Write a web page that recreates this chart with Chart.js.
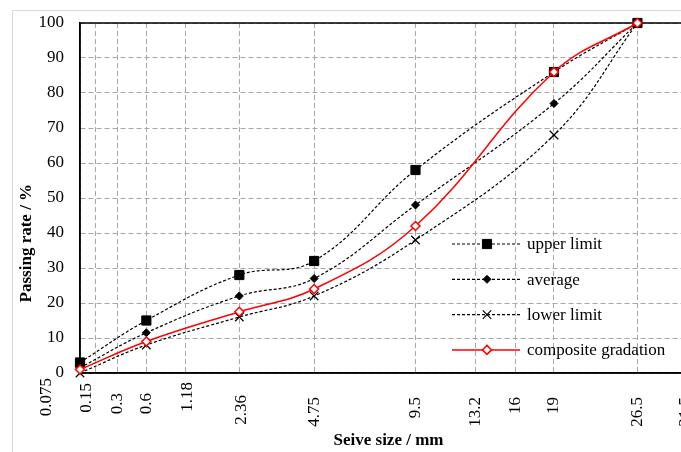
<!DOCTYPE html>
<html>
<head>
<meta charset="utf-8">
<script src="https://cdn.jsdelivr.net/npm/chart.js@4.4.1/dist/chart.umd.min.js"></script>
<style>
  html, body { margin: 0; padding: 0; background: #fff; overflow: hidden; width: 681px; height: 452px; }
  #frame { position: absolute; left: 12px; top: 10px; width: 760px; height: 520px; border: 1px solid #d9d9d9; box-sizing: border-box; }
  #c { position: absolute; left: 0; top: 0; }
</style>
</head>
<body>
<div id="frame"></div>
<canvas id="c" width="720" height="470"></canvas>
<script>
// Sieve sizes shown on the horizontal axis (mm) and their labels
const sieveSizes = [0.075, 0.15, 0.3, 0.6, 1.18, 2.36, 4.75, 9.5, 13.2, 16, 19, 26.5, 31.5];
const sieveLabels = ['0.075', '0.15', '0.3', '0.6', '1.18', '2.36', '4.75', '9.5', '13.2', '16', '19', '26.5', '31.5'];

// Sieves at which passing rates were measured (mm)
const dataSizes = [0.075, 0.6, 2.36, 4.75, 9.5, 19, 26.5];

// Passing rate (%) for each series
const upperLimit = [3, 15, 28, 32, 58, 86, 100];
const averageRate = [1.5, 11.5, 22, 27, 48, 77, 100];
const lowerLimit = [0, 8, 16, 22, 38, 68, 100];
const compositeGradation = [1, 9, 17.5, 24, 42, 86, 100];

// Series names
const seriesNames = ['upper limit', 'average', 'lower limit', 'composite gradation'];

// Gradation charts use a 0.45 power scale for sieve size
const pw = d => Math.pow(d, 0.45);
const toPoints = vals => dataSizes.map((d, i) => ({ x: pw(d), y: vals[i] }));

const FONT = 'Liberation Serif, "Times New Roman", serif';

function drawMarker(ctx, style, r, x, y, fill, stroke, lw) {
  ctx.save();
  ctx.fillStyle = fill; ctx.strokeStyle = stroke; ctx.lineWidth = lw; ctx.setLineDash([]);
  ctx.beginPath();
  if (style === 'rect') {
    const s = Math.SQRT1_2 * r;
    ctx.rect(x - s, y - s, 2 * s, 2 * s);
    ctx.fill(); ctx.stroke();
  } else if (style === 'rectRot') {
    ctx.moveTo(x, y - r); ctx.lineTo(x + r, y); ctx.lineTo(x, y + r); ctx.lineTo(x - r, y); ctx.closePath();
    ctx.fill(); ctx.stroke();
  } else if (style === 'crossRot') {
    const s = Math.SQRT1_2 * r;
    ctx.moveTo(x - s, y - s); ctx.lineTo(x + s, y + s);
    ctx.moveTo(x - s, y + s); ctx.lineTo(x + s, y - s);
    ctx.stroke();
  }
  ctx.restore();
}

// Black box around the plot area
const plotBox = {
  id: 'plotBox',
  beforeDatasetsDraw(chart) {
    const { ctx, chartArea: a } = chart;
    ctx.save();
    ctx.strokeStyle = '#000'; ctx.lineWidth = 1.5; ctx.setLineDash([]);
    ctx.strokeRect(a.left, a.top, a.right - a.left, a.bottom - a.top);
    ctx.restore();
  }
};

// Rotated sieve-size labels; the two smallest sizes are eased apart so they don't collide
const labelShiftX = [-33, -9, 0, 0, 2, 2, 0, 0, 0, 0, 0, 0, 0];
const labelShiftY = [-19, -14, -4, -4, -15, -2, 0, 0, 0, 0, 0, 0, 0];
const sieveTickLabels = {
  id: 'sieveTickLabels',
  afterDraw(chart) {
    const { ctx, chartArea: a } = chart;
    const xs = chart.scales.x;
    ctx.save();
    ctx.fillStyle = '#000'; ctx.font = '17px ' + FONT;
    ctx.textAlign = 'right'; ctx.textBaseline = 'middle';
    sieveSizes.forEach((d, i) => {
      ctx.save();
      ctx.translate(xs.getPixelForValue(pw(d)) + labelShiftX[i], a.bottom + 24 + labelShiftY[i]);
      ctx.rotate(-Math.PI / 2);
      ctx.fillText(sieveLabels[i], 0, 0);
      ctx.restore();
    });
    ctx.restore();
  }
};

// Legend inside the lower right of the plot, plus axis titles
const annotations = {
  id: 'annotations',
  afterDraw(chart) {
    const { ctx, chartArea: a } = chart;
    const x0 = a.right - 234, y0 = a.bottom - 129, gap = 35.3;
    chart.data.datasets.forEach((ds, i) => {
      const y = y0 + i * gap;
      ctx.save();
      ctx.strokeStyle = ds.borderColor; ctx.lineWidth = ds.borderWidth;
      ctx.setLineDash(ds.borderDash || []);
      ctx.beginPath(); ctx.moveTo(x0, y); ctx.lineTo(x0 + 68, y); ctx.stroke();
      ctx.restore();
      drawMarker(ctx, ds.pointStyle, ds.pointRadius, x0 + 35, y, ds.pointBackgroundColor, ds.pointBorderColor, ds.pointBorderWidth);
      ctx.save();
      ctx.fillStyle = '#000'; ctx.font = '17px ' + FONT;
      ctx.textAlign = 'left'; ctx.textBaseline = 'middle';
      ctx.fillText(ds.label, x0 + 75, y + 1);
      ctx.restore();
    });

    ctx.save();
    ctx.fillStyle = '#000'; ctx.font = 'bold 17px ' + FONT;
    ctx.textAlign = 'center'; ctx.textBaseline = 'middle';
    ctx.fillText('Seive size / mm', (a.left + a.right) / 2 + 5.5, a.bottom + 68);
    ctx.translate(a.left - 53, a.top + 0.629 * (a.bottom - a.top));
    ctx.rotate(-Math.PI / 2);
    ctx.fillText('Passing rate / %', 0, 0);
    ctx.restore();
  }
};

const dashed = [3, 2];
new Chart(document.getElementById('c'), {
  type: 'line',
  data: {
    datasets: [
      { label: seriesNames[0], data: toPoints(upperLimit), borderColor: '#000', borderWidth: 1.2, borderDash: dashed,
        pointStyle: 'rect', pointRadius: 6.5, pointBackgroundColor: '#000', pointBorderColor: '#000', pointBorderWidth: 1, order: 1 },
      { label: seriesNames[1], data: toPoints(averageRate), borderColor: '#000', borderWidth: 1.2, borderDash: dashed,
        pointStyle: 'rectRot', pointRadius: 4, pointBackgroundColor: '#000', pointBorderColor: '#000', pointBorderWidth: 1, order: 1 },
      { label: seriesNames[2], data: toPoints(lowerLimit), borderColor: '#000', borderWidth: 1.2, borderDash: dashed,
        pointStyle: 'crossRot', pointRadius: 6, pointBackgroundColor: '#000', pointBorderColor: '#000', pointBorderWidth: 1.2, order: 1 },
      { label: seriesNames[3], data: toPoints(compositeGradation), borderColor: '#ff0000', borderWidth: 1.5,
        pointStyle: 'rectRot', pointRadius: 4.5, pointBackgroundColor: '#fff', pointBorderColor: '#ff0000', pointBorderWidth: 1.5, order: 0 }
    ].map(ds => Object.assign(ds, { fill: false, tension: 0.4, clip: false, pointHoverRadius: ds.pointRadius }))
  },
  options: {
    responsive: false,
    animation: false,
    events: [],
    layout: { padding: { left: 0, top: 23, right: 34, bottom: 0 } },
    plugins: { legend: { display: false }, tooltip: { enabled: false } },
    scales: {
      x: {
        type: 'linear',
        min: pw(sieveSizes[0]),
        max: pw(sieveSizes[sieveSizes.length - 1]),
        afterBuildTicks: s => { s.ticks = sieveSizes.map(d => ({ value: pw(d) })); },
        afterFit: s => { s.height = 97; s.paddingLeft = 0; s.paddingRight = 0; },
        ticks: { display: false, autoSkip: false },
        grid: { color: '#a6a6a6', lineWidth: 1, drawTicks: false },
        border: { display: true, color: '#000', width: 1.5, dash: [5, 3] }
      },
      y: {
        min: 0, max: 100,
        afterFit: s => { s.width = 80; s.paddingTop = 0; s.paddingBottom = 0; },
        ticks: { stepSize: 10, padding: 16, color: '#000', font: { family: FONT, size: 17 } },
        grid: { color: '#a6a6a6', lineWidth: 1, drawTicks: false },
        border: { display: true, color: '#000', width: 1.5, dash: [5, 3] }
      }
    }
  },
  plugins: [plotBox, sieveTickLabels, annotations]
});
</script>
</body>
</html>
